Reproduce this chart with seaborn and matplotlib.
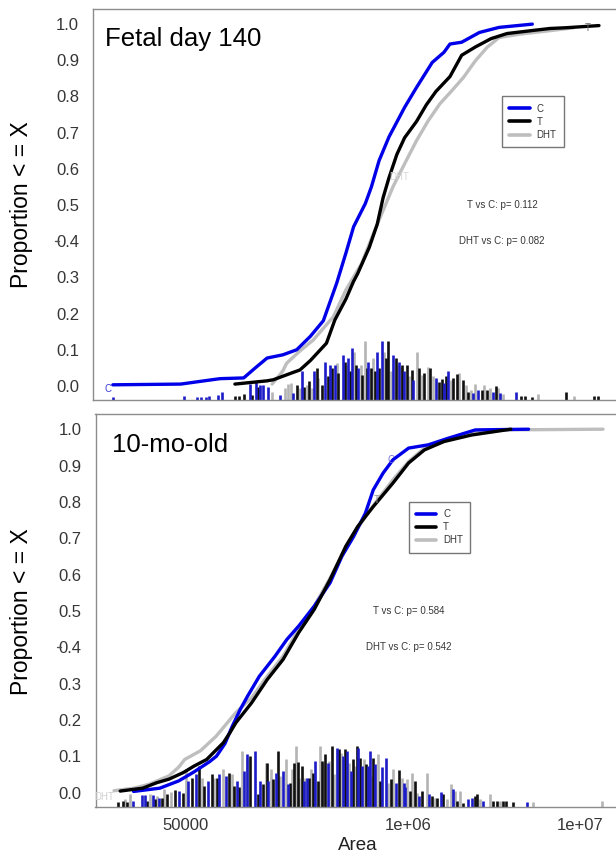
import numpy as np
import pandas as pd
import matplotlib
matplotlib.use("Agg")
import matplotlib.pyplot as plt
import matplotlib.transforms as mtransforms
from matplotlib.lines import Line2D
from matplotlib.ticker import NullLocator, FixedLocator, FixedFormatter
import seaborn as sns

sns.set_style("white")
plt.rcParams["font.family"] = ["Liberation Sans", "DejaVu Sans"]

# ---------------------------------------------------------------- data
groups = ["C", "T", "DHT"]
panel_titles = ["Fetal day 140", "10-mo-old"]
p_value_labels = [["T vs C: p= 0.112", "DHT vs C: p= 0.082"],
                  ["T vs C: p= 0.584", "DHT vs C: p= 0.542"]]

# cumulative proportions (x given as log10 of area)
fetal_c_log10 = [4.138, 4.463, 4.55, 4.651, 4.764, 4.82, 4.876, 4.952, 5.018, 5.083,
                 5.145, 5.209, 5.253, 5.290, 5.346, 5.375, 5.412, 5.459, 5.534, 5.591,
                 5.666, 5.722, 5.751, 5.807, 5.892, 5.986, 6.145]
fetal_c_prop = [0.003, 0.005, 0.012, 0.020, 0.022, 0.050, 0.077, 0.086, 0.100, 0.137,
                0.180, 0.284, 0.367, 0.440, 0.504, 0.550, 0.623, 0.688, 0.770, 0.825,
                0.894, 0.922, 0.945, 0.950, 0.977, 0.991, 1.000]

fetal_t_log10 = [4.722, 4.876, 4.906, 4.99, 5.033, 5.083, 5.16, 5.20, 5.253, 5.289,
                 5.309, 5.365, 5.403, 5.431, 5.459, 5.497, 5.534, 5.591, 5.638, 5.684,
                 5.751, 5.807, 5.873, 5.948, 6.024, 6.155, 6.23, 6.305, 6.464]
fetal_t_prop = [0.005, 0.014, 0.017, 0.035, 0.044, 0.070, 0.118, 0.182, 0.240, 0.288,
                0.310, 0.383, 0.447, 0.520, 0.575, 0.640, 0.686, 0.731, 0.777, 0.814,
                0.855, 0.914, 0.937, 0.960, 0.974, 0.983, 0.988, 0.990, 0.996]

fetal_dht_log10 = [4.90, 4.95, 4.97, 5.03, 5.097, 5.193, 5.253, 5.328, 5.384, 5.431,
                   5.478, 5.534, 5.591, 5.647, 5.703, 5.76, 5.816, 5.873, 5.929, 5.986,
                   6.08, 6.23, 6.343]
fetal_dht_prop = [0.005, 0.040, 0.063, 0.095, 0.127, 0.191, 0.265, 0.338, 0.420, 0.485,
                  0.550, 0.614, 0.678, 0.733, 0.780, 0.816, 0.853, 0.899, 0.936, 0.963,
                  0.972, 0.982, 0.990]

adult_c_log10 = [4.397, 4.55, 4.66, 4.75, 4.84, 4.88, 4.93, 4.97, 5.02, 5.061,
                 5.13, 5.221, 5.29, 5.359, 5.45, 5.542, 5.611, 5.68, 5.748, 5.794,
                 5.851, 5.909, 6.0, 6.115, 6.23, 6.389, 6.699]
adult_c_prop = [0.003, 0.012, 0.032, 0.057, 0.085, 0.100, 0.135, 0.180, 0.230, 0.265,
                0.320, 0.375, 0.421, 0.458, 0.513, 0.577, 0.650, 0.705, 0.769, 0.833,
                0.879, 0.916, 0.948, 0.957, 0.975, 0.998, 1.000]

adult_t_log10 = [4.319, 4.45, 4.532, 4.604, 4.687, 4.75, 4.823, 4.92, 4.959, 4.993,
                 5.085, 5.176, 5.268, 5.359, 5.45, 5.542, 5.634, 5.703, 5.794, 5.909,
                 6.0, 6.092, 6.206, 6.367, 6.596]
adult_t_prop = [0.004, 0.012, 0.027, 0.037, 0.055, 0.073, 0.091, 0.137, 0.165, 0.192,
                0.247, 0.311, 0.366, 0.440, 0.504, 0.586, 0.678, 0.732, 0.787, 0.852,
                0.907, 0.943, 0.966, 0.984, 1.000]

adult_dht_log10 = [4.283, 4.40, 4.489, 4.604, 4.66, 4.695, 4.787, 4.878, 4.993, 5.085,
                   5.176, 5.268, 5.359, 5.45, 5.542, 5.634, 5.703, 5.794, 5.909, 6.0,
                   6.092, 6.206, 6.367, 6.55, 7.133]
adult_dht_prop = [0.005, 0.012, 0.023, 0.046, 0.070, 0.091, 0.115, 0.155, 0.220, 0.261,
                  0.320, 0.375, 0.449, 0.513, 0.590, 0.673, 0.728, 0.790, 0.861, 0.911,
                  0.948, 0.970, 0.989, 0.998, 1.000]

# frequency spikes along the bottom: log10 area and spike top
fetal_c_spike_log10 = [4.137, 4.480, 4.539, 4.560, 4.582, 4.598, 4.640, 4.659, 4.794, 4.823,
                       4.842, 4.858, 4.879, 4.938, 5.001, 5.042, 5.102, 5.153, 5.178, 5.201,
                       5.241, 5.265, 5.281, 5.312, 5.360, 5.403, 5.424, 5.480, 5.507, 5.533,
                       5.576, 5.683, 5.724, 5.743, 5.863, 5.884, 5.956, 5.990, 6.066]
fetal_c_spike_top = [-0.030, -0.027, -0.030, -0.032, -0.030, -0.027, -0.025, -0.017, 0.006, 0.012,
                     0.003, 0.003, -0.002, -0.025, -0.020, 0.040, 0.040, 0.067, 0.058, 0.058,
                     0.086, 0.076, 0.106, 0.049, 0.067, 0.095, 0.124, 0.086, 0.067, 0.040,
                     0.017, 0.021, 0.007, 0.040, -0.020, -0.011, -0.016, -0.020, -0.017]

fetal_t_spike_log10 = [4.722, 4.742, 4.767, 4.802, 4.831, 5.021, 5.054, 5.077, 5.113, 5.137,
                       5.166, 5.185, 5.217, 5.249, 5.273, 5.301, 5.332, 5.353, 5.373, 5.392,
                       5.411, 5.444, 5.456, 5.491, 5.523, 5.544, 5.568, 5.603, 5.628, 5.657,
                       5.699, 5.714, 5.732, 5.767, 5.783, 5.815, 5.836, 5.903, 5.927, 5.970,
                       6.091, 6.110, 6.142, 6.305, 6.442, 6.461]
fetal_t_spike_top = [-0.027, -0.027, -0.023, -0.025, -0.002, 0.003, -0.002, 0.014, 0.049, 0.003,
                     0.026, 0.049, 0.035, 0.067, 0.040, 0.058, 0.030, 0.049, 0.049, 0.040,
                     0.049, 0.076, 0.124, 0.076, 0.058, 0.058, 0.044, 0.049, 0.035, 0.049,
                     0.012, 0.019, 0.026, 0.023, 0.032, 0.017, -0.017, -0.011, -0.011, 0.000,
                     -0.027, -0.027, -0.030, -0.017, -0.027, -0.027]

fetal_dht_spike_log10 = [4.898, 4.962, 4.978, 4.990, 5.033, 5.066, 5.089, 5.121, 5.209, 5.257,
                         5.293, 5.325, 5.344, 5.384, 5.434, 5.469, 5.501, 5.517, 5.555, 5.592,
                         5.616, 5.647, 5.671, 5.756, 5.794, 5.826, 5.852, 5.871, 5.915, 5.943,
                         5.979, 6.006, 6.174, 6.346]
fetal_dht_spike_top = [-0.016, -0.006, 0.005, 0.008, -0.006, 0.003, -0.005, 0.021, 0.063, 0.058,
                       0.095, 0.058, 0.124, 0.076, 0.095, 0.040, 0.058, 0.053, 0.026, 0.095,
                       0.030, 0.053, 0.026, 0.017, 0.035, 0.003, -0.011, 0.005, 0.003, -0.006,
                       -0.006, -0.023, -0.023, -0.027]

adult_c_spike_log10 = [4.392, 4.445, 4.464, 4.509, 4.547, 4.664, 4.716, 4.761, 4.833, 4.897,
                       4.936, 4.998, 5.041, 5.057, 5.105, 5.134, 5.182, 5.225, 5.270, 5.295,
                       5.389, 5.408, 5.455, 5.529, 5.581, 5.619, 5.639, 5.664, 5.707, 5.730,
                       5.762, 5.775, 5.804, 5.847, 5.867, 5.925, 5.971, 5.979, 6.062, 6.121,
                       6.187, 6.257, 6.348, 6.368, 6.432, 6.692]
adult_c_spike_top = [-0.024, -0.007, -0.007, -0.007, -0.014, 0.004, 0.032, 0.050, 0.032, 0.050,
                     0.046, 0.032, 0.059, 0.105, 0.114, 0.032, 0.032, 0.055, 0.059, 0.023,
                     0.032, 0.041, 0.087, 0.082, 0.123, 0.101, 0.114, 0.059, 0.123, 0.073,
                     0.073, 0.114, 0.078, 0.069, 0.096, 0.027, 0.027, 0.014, -0.009, -0.005,
                     0.002, 0.011, -0.018, -0.014, -0.024, -0.027]

adult_t_spike_log10 = [4.308, 4.334, 4.361, 4.477, 4.522, 4.561, 4.594, 4.639, 4.684, 4.736,
                       4.780, 4.808, 4.853, 4.882, 4.955, 4.983, 5.014, 5.076, 5.121, 5.153,
                       5.173, 5.211, 5.237, 5.309, 5.334, 5.354, 5.377, 5.420, 5.445, 5.470,
                       5.497, 5.513, 5.555, 5.594, 5.629, 5.678, 5.698, 5.719, 5.750, 5.794,
                       5.833, 5.897, 5.944, 6.008, 6.037, 6.076, 6.135, 6.167, 6.202, 6.284,
                       6.315, 6.387, 6.400, 6.490, 6.513, 6.548, 6.568, 6.607]
adult_t_spike_top = [-0.026, -0.024, -0.027, -0.024, -0.018, -0.014, -0.005, 0.007, -0.001, 0.041,
                     0.073, 0.018, 0.050, 0.041, 0.055, 0.018, 0.014, 0.101, -0.005, 0.023,
                     0.082, 0.038, 0.114, 0.027, 0.082, 0.084, 0.073, 0.041, 0.055, 0.032,
                     0.087, 0.105, 0.128, 0.119, 0.119, 0.091, 0.128, 0.096, 0.078, 0.096,
                     0.032, 0.036, 0.062, 0.005, 0.032, 0.005, -0.009, -0.014, -0.005, -0.024,
                     -0.028, -0.009, -0.005, -0.024, -0.024, -0.024, -0.024, -0.027]

adult_dht_spike_log10 = [4.347, 4.376, 4.493, 4.532, 4.575, 4.614, 4.703, 4.796, 4.866, 4.917,
                         4.969, 5.027, 5.060, 5.167, 5.198, 5.251, 5.284, 5.322, 5.342, 5.363,
                         5.396, 5.429, 5.484, 5.505, 5.538, 5.567, 5.606, 5.653, 5.688, 5.742,
                         5.785, 5.820, 5.882, 5.911, 5.960, 5.992, 6.022, 6.051, 6.105, 6.154,
                         6.222, 6.245, 6.270, 6.300, 6.416, 6.474, 6.533, 6.727, 7.125]
adult_dht_spike_top = [-0.018, -0.005, -0.005, -0.009, 0.009, 0.002, 0.064, 0.041, 0.041, 0.064,
                       0.050, 0.114, 0.091, 0.082, 0.064, 0.046, 0.093, 0.064, 0.128, 0.041,
                       0.041, 0.064, 0.128, 0.082, 0.087, 0.050, 0.110, 0.082, 0.073, 0.091,
                       0.046, 0.105, 0.027, 0.064, 0.041, 0.037, 0.055, 0.000, 0.055, -0.014,
                       -0.018, 0.023, 0.004, 0.004, -0.018, -0.005, -0.024, -0.027, -0.024]

y_ticks = [0.0, 0.1, 0.2, 0.3, 0.4, 0.5, 0.6, 0.7, 0.8, 0.9, 1.0]
y_tick_labels = ["0.0", "0.1", "0.2", "0.3", "0.4", "0.5", "0.6", "0.7", "0.8", "0.9", "1.0"]
fetal_x_ticks = [2e4, 1e5, 1e6]
adult_x_ticks = [5e4, 1e5, 1e6, 1e7]
adult_x_tick_labels = ["50000", "", "1e+06", "1e+07"]

# ---------------------------------------------------------------- style
line_colors = {"C": "#0000e8", "T": "#000000", "DHT": "#bebebe"}
spike_colors = {"C": "#1c1cc8", "T": "#101010", "DHT": "#b4b4b4"}
frame_color = "#8c8c8c"
text_color = "#363636"
Y_LOW, Y_HIGH = -0.039, 1.041


def ecdf_frame(curves):
    parts = []
    for g, (lx, p) in curves.items():
        parts.append(pd.DataFrame({"area": 10 ** np.asarray(lx), "prop": p, "group": g}))
    return pd.concat(parts, ignore_index=True)


def draw_panel(ax, curves, spikes, xlim):
    ax.set_xscale("log")
    ax.set_xlim(*xlim)
    ax.set_ylim(Y_LOW, Y_HIGH)
    for g in ["DHT", "T", "C"]:
        lx, top = spikes[g]
        ax.vlines(10 ** np.asarray(lx), Y_LOW, top, colors=spike_colors[g],
                  linewidth=1.9, zorder=1)
    sns.lineplot(data=ecdf_frame(curves), x="area", y="prop", hue="group",
                 hue_order=["DHT", "C", "T"], palette=line_colors,
                 estimator=None, sort=False, linewidth=2.4, legend=False,
                 ax=ax, zorder=2)
    ax.set_xlabel("")
    ax.set_ylabel("")
    for s in ax.spines.values():
        s.set_color(frame_color)
        s.set_linewidth(1.0)
        s.set_visible(True)
    ax.yaxis.set_major_locator(FixedLocator(y_ticks))
    ax.yaxis.set_major_formatter(FixedFormatter(y_tick_labels))
    ax.xaxis.set_minor_locator(NullLocator())
    ax.tick_params(axis="y", length=0, pad=10, labelsize=12, labelcolor=text_color)
    ax.tick_params(axis="x", which="major", direction="out", length=5, width=1,
                   color=frame_color, labelsize=12, labelcolor=text_color, pad=3)
    # stray tick next to 0.4
    trans = mtransforms.blended_transform_factory(ax.transAxes, ax.transData)
    ax.add_line(Line2D([-0.071, -0.064], [0.4, 0.4], transform=trans,
                       color="#555555", lw=1.0, clip_on=False))


def draw_legend(ax):
    handles = [Line2D([], [], color=line_colors[g], lw=2.6) for g in groups]
    leg = ax.legend(handles, groups, loc="upper left", bbox_to_anchor=(1e6, 0.8),
                    bbox_transform=ax.transData, fontsize=7, frameon=True,
                    fancybox=False, borderaxespad=0, handlelength=2.1,
                    handletextpad=0.7, labelspacing=0.32, borderpad=0.75)
    leg.get_frame().set_edgecolor("#555555")
    leg.get_frame().set_linewidth(1.0)
    for t in leg.get_texts():
        t.set_color(text_color)


W, H = 616, 857
fig = plt.figure(figsize=(W / 100, H / 100), dpi=100)

ax_top = fig.add_axes([93 / W, 1 - 400 / H, (632 - 93) / W, (400 - 9.3) / H])
ax_bot = fig.add_axes([95.5 / W, 1 - 806.7 / H, (632 - 95.5) / W, (806.7 - 414.3) / H])

# top panel: fetal day 140
draw_panel(ax_top,
           {"C": (fetal_c_log10, fetal_c_prop), "T": (fetal_t_log10, fetal_t_prop),
            "DHT": (fetal_dht_log10, fetal_dht_prop)},
           {"C": (fetal_c_spike_log10, fetal_c_spike_top),
            "T": (fetal_t_spike_log10, fetal_t_spike_top),
            "DHT": (fetal_dht_spike_log10, fetal_dht_spike_top)},
           (10 ** 4.043, 10 ** 6.622))
ax_top.xaxis.set_major_locator(FixedLocator(fetal_x_ticks))
ax_top.xaxis.set_major_formatter(FixedFormatter(["", "", ""]))

# bottom panel: 10-month-old
draw_panel(ax_bot,
           {"C": (adult_c_log10, adult_c_prop), "T": (adult_t_log10, adult_t_prop),
            "DHT": (adult_dht_log10, adult_dht_prop)},
           {"C": (adult_c_spike_log10, adult_c_spike_top),
            "T": (adult_t_spike_log10, adult_t_spike_top),
            "DHT": (adult_dht_spike_log10, adult_dht_spike_top)},
           (10 ** 4.175, 10 ** 7.302))
ax_bot.xaxis.set_major_locator(FixedLocator(adult_x_ticks))
ax_bot.xaxis.set_major_formatter(FixedFormatter(adult_x_tick_labels))

for ax, title, pv in zip([ax_top, ax_bot], panel_titles, p_value_labels):
    draw_legend(ax)
    ax.text(1e6, 0.5, pv[0], ha="center", va="center", fontsize=7, color=text_color)
    ax.text(1e6, 0.4, pv[1], ha="center", va="center", fontsize=7, color=text_color)

# curve labels
ax_top.text(10 ** 4.115, -0.008, "C", fontsize=7, color="#3a3ad8", ha="center", va="center")
ax_top.text(10 ** 5.507, 0.577, "DHT", fontsize=7, color="#d6d6d6", ha="center", va="center")
ax_top.text(10 ** 6.41, 0.99, "T", fontsize=7, color="#707070", ha="center", va="center")
ax_bot.text(10 ** 5.897, 0.916, "C", fontsize=7, color="#7070e0", ha="center", va="center")
ax_bot.text(10 ** 5.816, 0.806, "T", fontsize=7, color="#9a9a9a", ha="center", va="center")
ax_bot.text(10 ** 4.225, -0.012, "DHT", fontsize=7, color="#d0d0d0", ha="center", va="center")

# panel titles
fig.text(105 / W, 1 - 46 / H, panel_titles[0], fontsize=18.5, color="black", va="baseline")
fig.text(112 / W, 1 - 451.7 / H, panel_titles[1], fontsize=18.5, color="black", va="baseline")

# axis titles
fig.text(22 / W, 1 - 205 / H, "Proportion < = X", rotation=90, ha="center", va="center",
         fontsize=16.5, color="black")
fig.text(22 / W, 1 - 612 / H, "Proportion < = X", rotation=90, ha="center", va="center",
         fontsize=16.5, color="black")
fig.text(358 / W, 1 - 846 / H, "Area", ha="center", va="center", fontsize=13.5,
         color="#222222")

fig.savefig("out.png", dpi=100)
